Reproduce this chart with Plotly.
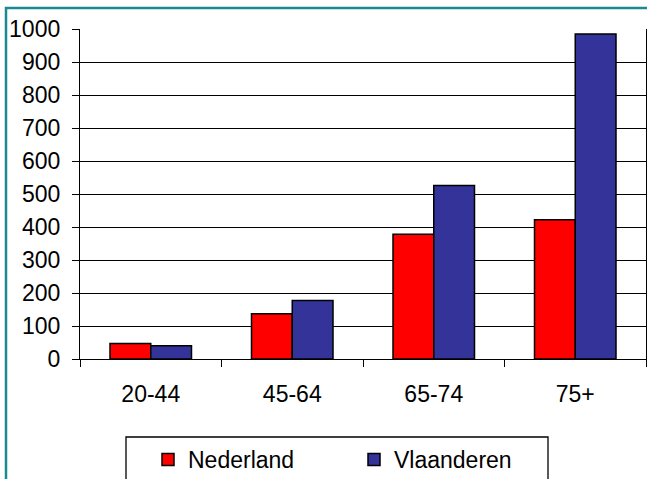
import plotly.graph_objects as go

categories = ["20-44", "45-64", "65-74", "75+"]
nederland = [47, 137, 378, 422]
vlaanderen = [40, 177, 526, 985]
y_ticks = [0, 100, 200, 300, 400, 500, 600, 700, 800, 900, 1000]

W, H = 647, 479
L, R, T, B = 80, 1, 29, 120
PW, PH = W - L - R, H - T - B

def px(x):
    return (x - L) / PW

def py(y):
    return (H - B - y) / PH

FONT = "Liberation Sans, Arial, sans-serif"

fig = go.Figure()
fig.add_trace(go.Bar(name="Nederland", x=categories, y=nederland,
                     marker=dict(color="#FF0000", line=dict(color="black", width=1.5))))
fig.add_trace(go.Bar(name="Vlaanderen", x=categories, y=vlaanderen,
                     marker=dict(color="#333399", line=dict(color="black", width=1.5))))

fig.update_layout(
    width=W, height=H,
    margin=dict(l=L, r=R, t=T, b=B, pad=0, autoexpand=False),
    paper_bgcolor="white", plot_bgcolor="white",
    font=dict(family=FONT, size=23, color="black"),
    barmode="group", bargap=0.424, bargroupgap=0,
    showlegend=True,
    legend=dict(orientation="h", x=px(148), y=py(438), xanchor="left", yanchor="top",
                bgcolor="rgba(0,0,0,0)", borderwidth=0,
                entrywidth=161, entrywidthmode="pixels",
                font=dict(family=FONT, size=23, color="black")),
    xaxis=dict(showline=True, linecolor="black", linewidth=1.3, automargin=False,
               ticks="outside", tickson="boundaries", ticklen=7, tickcolor="black", tickwidth=1.3,
               showgrid=False, ticklabelstandoff=14),
    yaxis=dict(range=[0, 1000], tickvals=y_ticks, showline=True, linecolor="black", linewidth=1.3,
               mirror=True, automargin=False,
               ticks="outside", ticklen=7, tickcolor="black", tickwidth=1.3,
               showgrid=True, gridcolor="black", gridwidth=1.3, zeroline=False,
               ticklabelstandoff=7),
    shapes=[
        dict(type="rect", xref="paper", yref="paper",
             x0=px(6), x1=px(720), y0=py(8), y1=py(560),
             line=dict(color="#1a8a92", width=2.5), layer="below"),
        dict(type="rect", xref="paper", yref="paper",
             x0=px(126), x1=px(548), y0=py(437), y1=py(520),
             line=dict(color="black", width=1.3), fillcolor="white", layer="below"),
    ],
)

fig.write_html("out.html")
